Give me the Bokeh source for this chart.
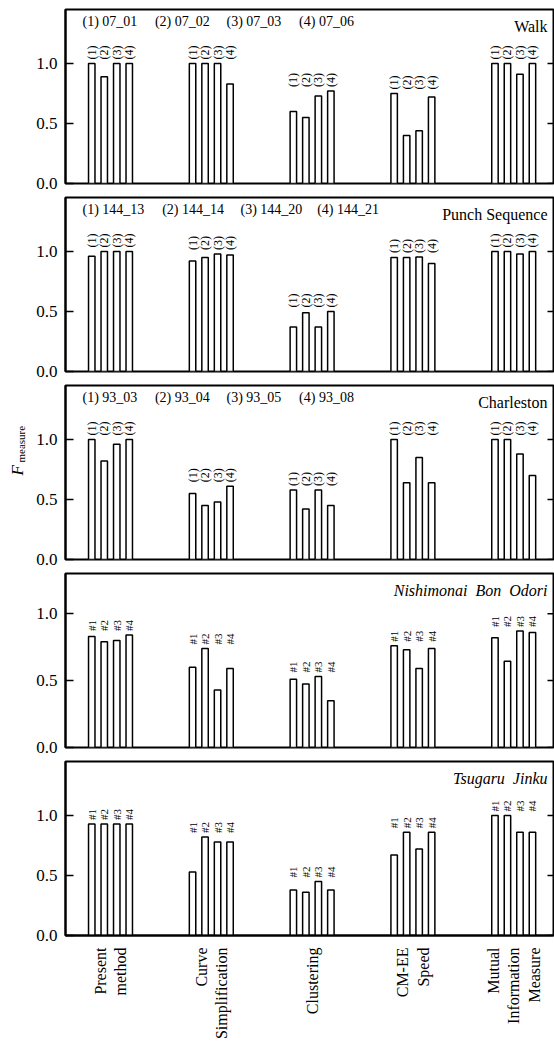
from math import pi
from bokeh.plotting import figure
from bokeh.layouts import column, row
from bokeh.models import Range1d, FixedTicker, Label, PrintfTickFormatter
from bokeh.core.properties import value
from bokeh.embed import file_html
from bokeh.resources import INLINE

# ---------------- data ----------------
methods = ["Present\nmethod", "Curve\nSimplification", "Clustering", "CM-EE\nSpeed",
           "Mutual\nInformation\nMeasure"]

# values per method, 4 trials each
walk = [[1.00, 0.89, 1.00, 1.00],
        [1.00, 1.00, 1.00, 0.83],
        [0.60, 0.55, 0.73, 0.77],
        [0.75, 0.40, 0.44, 0.72],
        [1.00, 1.00, 0.91, 1.00]]
punch = [[0.96, 1.00, 1.00, 1.00],
         [0.92, 0.95, 0.98, 0.97],
         [0.37, 0.49, 0.37, 0.50],
         [0.95, 0.95, 0.955, 0.90],
         [1.00, 1.00, 0.98, 1.00]]
charleston = [[1.00, 0.82, 0.96, 1.00],
              [0.55, 0.45, 0.48, 0.61],
              [0.58, 0.42, 0.58, 0.45],
              [1.00, 0.64, 0.85, 0.64],
              [1.00, 1.00, 0.88, 0.70]]
nishimonai = [[0.83, 0.79, 0.80, 0.84],
              [0.60, 0.74, 0.43, 0.59],
              [0.51, 0.475, 0.53, 0.35],
              [0.76, 0.73, 0.59, 0.74],
              [0.82, 0.645, 0.87, 0.86]]
tsugaru = [[0.93, 0.93, 0.93, 0.93],
           [0.53, 0.82, 0.78, 0.78],
           [0.38, 0.36, 0.45, 0.38],
           [0.67, 0.86, 0.72, 0.86],
           [1.00, 1.00, 0.86, 0.86]]

walk_trials = ["(1) 07_01", "(2) 07_02", "(3) 07_03", "(4) 07_06"]
punch_trials = ["(1) 144_13", "(2) 144_14", "(3) 144_20", "(4) 144_21"]
charleston_trials = ["(1) 93_03", "(2) 93_04", "(3) 93_05", "(4) 93_08"]

paren_labels = ["(1)", "(2)", "(3)", "(4)"]
hash_labels = ["#1", "#2", "#3", "#4"]

y_ticks = [0.0, 0.5, 1.0]
y_label_main = "F"
y_label_sub = "measure"

panels = [
    dict(name="Walk", data=walk, trials=walk_trials, tx=[82, 154.4, 226, 298.6],
         bl=paren_labels, ymax=1.45, italic=False),
    dict(name="Punch Sequence", data=punch, trials=punch_trials, tx=[82, 161.7, 240, 316.7],
         bl=paren_labels, ymax=1.45, italic=False),
    dict(name="Charleston", data=charleston, trials=charleston_trials, tx=[82, 154.4, 226, 298.6],
         bl=paren_labels, ymax=1.45, italic=False),
    dict(name="Nishimonai\u00a0 Bon\u00a0 Odori", data=nishimonai, trials=None, tx=None,
         bl=hash_labels, ymax=1.3, italic=True),
    dict(name="Tsugaru\u00a0 Jinku", data=tsugaru, trials=None, tx=None,
         bl=hash_labels, ymax=1.45, italic=True),
]

# ---------------- layout ----------------
FONT = "Liberation Serif"
PAGE_W, PAGE_H = 554, 1044
STRIP_W = 30                      # left strip that carries the y label
W = PAGE_W - STRIP_W
BL, BR = 65 - STRIP_W, 1
FH = 174
PPX = 100.8
X_START = -45.0 / PPX
X_END = X_START + (W - BL - BR) / PPX
offsets = [-0.186, -0.062, 0.062, 0.186]
BAR_W = 0.064

figs = []
used_h = 0
for pi_idx, pan in enumerate(panels):
    first = pi_idx == 0
    last = pi_idx == len(panels) - 1
    bt = 9 if first else 4
    bb = (PAGE_H - used_h - bt - FH) if last else 10
    h = bt + FH + bb
    used_h += h
    ymax = pan["ymax"]
    ppu = FH / ymax
    p = figure(width=W, height=h,
               x_range=Range1d(X_START, X_END), y_range=Range1d(0, ymax),
               toolbar_location=None, output_backend="svg",
               x_axis_location="below" if last else None,
               min_border_left=BL, min_border_right=BR,
               min_border_top=bt, min_border_bottom=bb)
    p.xgrid.visible = False
    p.ygrid.visible = False
    p.outline_line_color = "black"
    p.outline_line_width = 2
    p.background_fill_color = "white"
    p.border_fill_color = "white"

    ax = p.yaxis[0]
    ax.ticker = FixedTicker(ticks=y_ticks)
    ax.formatter = PrintfTickFormatter(format="%.1f")
    ax.major_label_text_font = FONT
    ax.major_label_text_font_size = "17px"
    ax.major_label_text_color = "black"
    ax.major_tick_in = 8
    ax.major_tick_out = 0
    ax.major_tick_line_width = 1.5
    ax.major_tick_line_color = "black"
    ax.minor_tick_line_color = None
    ax.axis_line_width = 2
    ax.axis_line_color = "black"
    ax.major_label_standoff = 8

    if last:
        xa = p.xaxis[0]
        xa.ticker = FixedTicker(ticks=list(range(len(methods))))
        xa.major_label_overrides = {i: m for i, m in enumerate(methods)}
        xa.major_label_orientation = pi / 2
        xa.major_label_text_font = FONT
        xa.major_label_text_font_size = "16px"
        xa.major_label_text_color = "black"
        xa.major_label_standoff = 6
        xa.major_tick_line_color = None
        xa.minor_tick_line_color = None
        xa.axis_line_width = 2
        xa.axis_line_color = "black"

    # inward ticks on the right edge
    p.segment(x0=[X_END - 6.0 / PPX] * len(y_ticks), x1=[X_END] * len(y_ticks),
              y0=y_ticks, y1=y_ticks, line_color="black", line_width=1.5)

    xs, tops, lx, ly, lt = [], [], [], [], []
    for g, vals in enumerate(pan["data"]):
        gmax = max(vals)
        for k, v in enumerate(vals):
            xs.append(g + offsets[k])
            tops.append(v)
            lx.append(g + offsets[k])
            ly.append(gmax + 4.0 / ppu)
            lt.append(pan["bl"][k])
    p.vbar(x=xs, top=tops, bottom=0, width=BAR_W, fill_color="white",
           line_color="black", line_width=1.5)
    p.text(x=lx, y=ly, text=lt, angle=pi / 2, text_align="left", text_baseline="middle",
           text_font=value(FONT), text_font_size="11px" if pan["bl"] is hash_labels else "12px",
           text_color="black")

    # title at the right (screen x relative to frame left)
    p.add_layout(Label(x=547 - 65, x_units="screen", y=ymax - 17.0 / ppu, text=pan["name"],
                       text_align="right", text_baseline="alphabetic", text_font=FONT,
                       text_font_size="16px",
                       text_font_style="italic" if pan["italic"] else "normal",
                       text_color="black"))
    # trial header
    if pan["trials"]:
        for t, xpx in zip(pan["trials"], pan["tx"]):
            p.add_layout(Label(x=xpx - 65, x_units="screen", y=ymax - 12.0 / ppu, text=t,
                               text_align="left", text_baseline="alphabetic", text_font=FONT,
                               text_font_size="14px", text_color="black"))
    figs.append(p)

# left strip carrying the rotated y label (F with subscript "measure")
strip = figure(width=STRIP_W, height=PAGE_H, x_range=Range1d(0, STRIP_W),
               y_range=Range1d(0, PAGE_H), toolbar_location=None, output_backend="svg",
               x_axis_location=None, y_axis_location=None,
               min_border_left=0, min_border_right=0, min_border_top=0, min_border_bottom=0)
strip.xgrid.visible = False
strip.ygrid.visible = False
strip.outline_line_color = None
strip.border_fill_color = "white"
strip.background_fill_color = "white"
strip.text(x=[16.7], y=[PAGE_H - 475], text=[y_label_main], angle=pi / 2,
           text_align="left", text_baseline="alphabetic", text_font=value(FONT),
           text_font_style="italic", text_font_size="17px", text_color="black")
strip.text(x=[20.7], y=[PAGE_H - 462], text=[y_label_sub], angle=pi / 2,
           text_align="left", text_baseline="alphabetic", text_font=value(FONT),
           text_font_size="11px", text_color="black")

layout = row(strip, column(*figs, spacing=0), spacing=0)
open("out.html", "w").write(file_html(layout, INLINE))
